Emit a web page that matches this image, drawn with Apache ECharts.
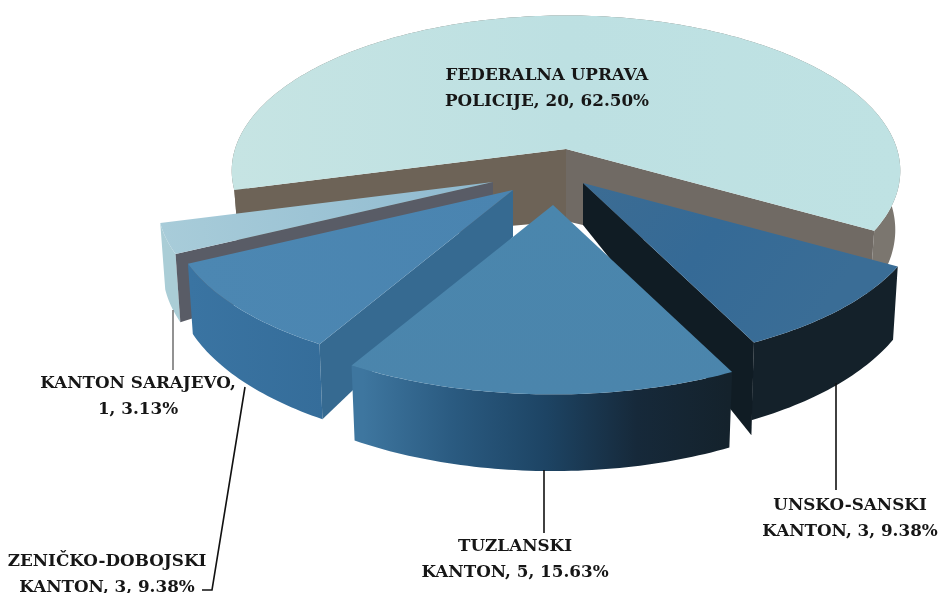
<!DOCTYPE html>
<html><head><meta charset="utf-8">
<style>html,body{margin:0;padding:0;background:#fff}#c{width:943px;height:593px}</style>
<script src="https://cdn.jsdelivr.net/npm/echarts@6/dist/echarts.min.js"></script>
</head><body><div id="c"></div>
<script>
// Data, in the chart's clockwise order
const categories = ['FEDERALNA UPRAVA\nPOLICIJE', 'UNSKO-SANSKI\nKANTON', 'TUZLANSKI\nKANTON', 'ZENIČKO-DOBOJSKI\nKANTON', 'KANTON SARAJEVO'];
const values = [20, 3, 5, 3, 1];
const percents = ['62.50%', '9.38%', '15.63%', '9.38%', '3.13%'];
const labelTexts = [
  'FEDERALNA UPRAVA\nPOLICIJE, 20, 62.50%',
  'UNSKO-SANSKI\nKANTON, 3, 9.38%',
  'TUZLANSKI\nKANTON, 5, 15.63%',
  'ZENIČKO-DOBOJSKI\nKANTON, 3, 9.38%',
  'KANTON SARAJEVO,\n1, 3.13%'
];

// Picture layout
const START_ANGLE = 165, TILT = 0.46, PERSPECTIVE = 0.14, BOTTOM_SHRINK = 0.985;
const grad = (x, y, x2, y2, stops) => ({type:'linear', x, y, x2, y2, global:true,
  colorStops: stops.map((c, i) => ({offset: i / (stops.length - 1), color: c}))});
const layout = [
  {apex:[566,149], r:331, rim:58, apexDepth:72, order:0,
   top:grad(232,0,900,0,['#c6e4e3','#bde0e2','#bfe2e3']),
   rimFill:'#7b766f',
   startWall:'#6d6357', endWall:'#706a64',
   label:[547,89]},
  {apex:[583,183], r:338, rim:68, apexDepth:42, order:3, tip:15,
   top:grad(583,183,800,340,['#3c6c93','#356a96','#3a6d96']),
   rimFill:'#14212a', endWall:'#101c24',
   label:[850,519], line:[[836,383],[836,490]], lineColor:'#111'},
  {apex:[553,205], r:354, rim:66, apexDepth:50, order:4,
   top:grad(553,205,553,395,['#4a86ad','#4b85ac']),
   rimFill:grad(363,0,728,0,['#3e769f','#2a5a80','#1d4464','#16293a','#14222c']),
   label:[515,560], line:[[544,470],[544,533]], lineColor:'#111'},
  {apex:[513,190], r:340, rim:66, apexDepth:47, order:2,
   top:grad(190,265,513,190,['#4c87b2','#4a84b0']),
   rimFill:grad(190,0,323,0,['#3a74a2','#356d9a']), startWall:'#366a91',
   label:[107,575], line:[[245,387],[212,590],[202,590]], lineColor:'#111'},
  {apex:[493,182], r:332, rim:64, apexDepth:40, order:1,
   top:grad(162,220,493,182,['#a8ccd9','#8fbad0']),
   rimFill:'#aacdd6', startWall:'#595c66',
   label:[138,397], line:[[173,310],[173,370]], lineColor:'#777'}
];

const total = values.reduce((a, b) => a + b, 0);

function ringPoint(s, deg, depth, shrink) {
  const a = deg * Math.PI / 180, u = Math.cos(a), v = Math.sin(a);
  const p = 1 / (1 - PERSPECTIVE * v);
  return [s.apex[0] + s.r * u * p * shrink, s.apex[1] + s.r * TILT * v * p + depth * p];
}
function rimArc(s, a0, a1, depth, shrink) {
  const n = Math.ceil(Math.abs(a1 - a0)), pts = [];
  for (let i = 0; i <= n; i++) pts.push(ringPoint(s, a0 + (a1 - a0) * i / n, depth, shrink));
  return pts;
}
function renderItem(params, api) {
  const i = params.dataIndex, s = layout[i], children = [];
  let before = 0;
  for (let k = 0; k < i; k++) before += values[k];
  const a0 = START_ANGLE + before / total * 360;
  const a1 = a0 + api.value(0) / total * 360;
  const base = 10 + s.order * 10;
  const poly = (points, fill, z) => children.push({type:'polygon', z2: base + z, silent:true,
    shape:{points}, style:{fill, stroke:'none'}});
  const bottom = rimArc(s, a1, a0, s.rim, BOTTOM_SHRINK);
  poly(rimArc(s, a0, a1, 0, 1).concat(bottom), s.rimFill, 0);
  const apexBottom = [s.apex[0], s.apex[1] + s.apexDepth];
  if (s.startWall) {
    const t = ringPoint(s, a0, 0, 1), b = ringPoint(s, a0, s.rim, BOTTOM_SHRINK);
    poly([s.apex, t, b, apexBottom], s.startWall, 1);
  }
  if (s.endWall) {
    const t = ringPoint(s, a1, 0, 1), b = ringPoint(s, a1, s.rim, BOTTOM_SHRINK);
    poly([s.apex, t, [b[0], b[1] + (s.tip || 0)], apexBottom], s.endWall, 1);
  }
  poly([s.apex].concat(rimArc(s, a0, a1, 0, 1)), s.top, 2);
  if (s.line) children.push({type:'polyline', z2:95, silent:true, shape:{points:s.line},
    style:{fill:'none', stroke:s.lineColor, lineWidth:1.6}});
  children.push({type:'text', z2:100, silent:true, style:{
    x:s.label[0], y:s.label[1], text:labelTexts[i], align:'center', verticalAlign:'middle',
    font:'bold 16.8px "DejaVu Serif", serif', lineHeight:26, fill:'#161616'}});
  return {type:'group', children};
}

const chart = echarts.init(document.getElementById('c'), null, {renderer:'canvas'});
chart.setOption({
  animation:false,
  backgroundColor:'#fff',
  series:[{type:'custom', coordinateSystem:'none', renderItem, silent:true,
    data: values.map((v, i) => ({name:categories[i], value:[v, percents[i]]}))}]
});
</script></body></html>
